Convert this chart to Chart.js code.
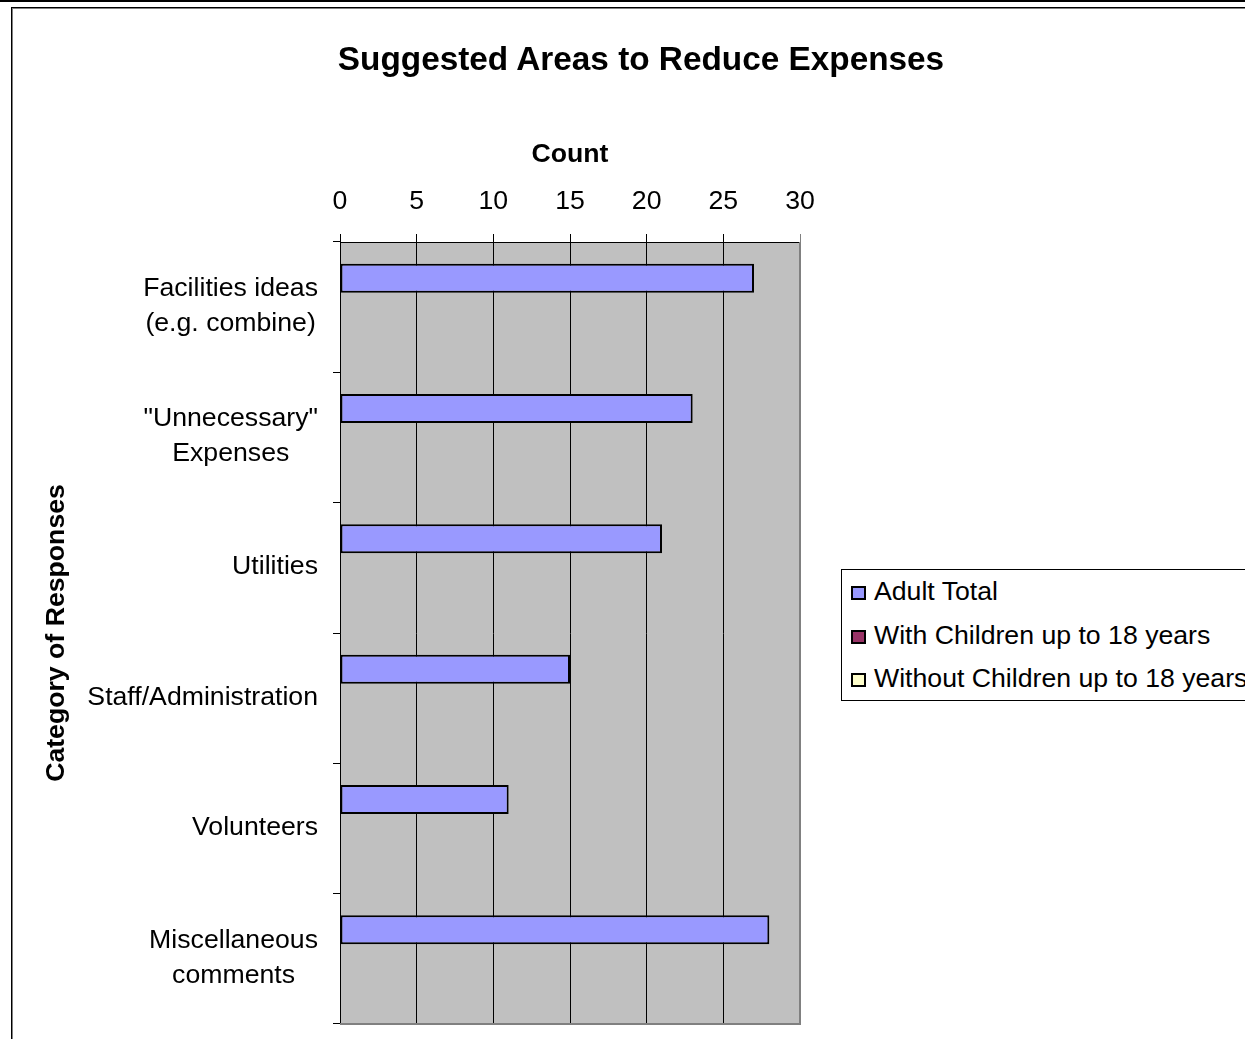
<!DOCTYPE html>
<html>
<head>
<meta charset="utf-8">
<script src="https://cdn.jsdelivr.net/npm/chart.js@4/dist/chart.umd.min.js"></script>
<style>
  html, body { margin: 0; padding: 0; background: #fff; overflow: hidden; }
  body { width: 1245px; height: 1039px; position: relative; font-family: "Liberation Sans", Arial, sans-serif; }
  #topline { position: absolute; left: 0; top: 0; width: 1245px; height: 2px; background: #000; }
  #frame { position: absolute; left: 11px; top: 7px; width: 1300px; height: 1100px;
           border-left: 1px solid #000; border-top: 1px solid #000; box-shadow: inset 1px 1px 0 #808080; }
  #chart { position: absolute; left: 0; top: 0; }
  #title { position: absolute; left: 0; top: 39px; width: 1282px; text-align: center;
           font-weight: bold; font-size: 33.33px; line-height: 40px; color: #000; }
  #legend { position: absolute; left: 841px; top: 569px; width: 430px; height: 130px;
            border: 1px solid #000; background: #fff; }
  .item { position: relative; height: 43.5px; line-height: 42px; font-size: 26.67px; color: #000; white-space: nowrap; }
  .swatch { position: absolute; left: 9px; top: 16px; width: 11px; height: 10px; border: 2px solid #000; }
  .item span.txt { position: absolute; left: 32px; top: 0; }
</style>
</head>
<body>
<div id="topline"></div>
<div id="frame"></div>
<canvas id="chart" width="1245" height="1039"></canvas>
<div id="title">Suggested Areas to Reduce Expenses</div>
<div id="legend"></div>
<script>
// data
const categories = [
    ['Facilities ideas', '(e.g. combine)'],
    ['"Unnecessary"', 'Expenses'],
    ['Utilities'],
    ['Staff/Administration'],
    ['Volunteers'],
    ['Miscellaneous', 'comments']
];
const seriesNames = ['Adult Total', 'With Children up to 18 years', 'Without Children up to 18 years'];
const seriesColors = ['#9999FF', '#993366', '#FFFFCC'];
const adultTotal = [27, 23, 21, 15, 11, 28];
const withChildren = [];
const withoutChildren = [];
const countTicks = [0, 5, 10, 15, 20, 25, 30];

const FONT = '"Liberation Sans", Arial, sans-serif';

// grey plot background + grey right/bottom border
const plotArea = {
    id: 'plotArea',
    beforeDraw(chart) {
        const a = chart.chartArea, c = chart.ctx;
        c.save();
        c.fillStyle = '#C0C0C0';
        c.fillRect(a.left, a.top, a.right - a.left, a.bottom - a.top);
        c.restore();
    },
    afterDraw(chart) {
        const a = chart.chartArea, c = chart.ctx;
        c.save();
        c.strokeStyle = '#808080';
        c.lineWidth = 2;
        c.beginPath();
        c.moveTo(a.right, a.top);
        c.lineTo(a.right, a.bottom);
        c.lineTo(a.left, a.bottom);
        c.stroke();
        c.restore();
    }
};

// category labels: block right aligned, lines centered inside block
const catLabels = {
    id: 'catLabels',
    afterDraw(chart) {
        const y = chart.scales.y, c = chart.ctx;
        const right = chart.chartArea.left - 22;
        c.save();
        c.font = '26.67px ' + FONT;
        c.fillStyle = '#000';
        c.textAlign = 'center';
        c.textBaseline = 'middle';
        categories.forEach(function (lines, i) {
            const cy = y.getPixelForValue(i) - 1;
            let w = 0;
            lines.forEach(function (t) { w = Math.max(w, c.measureText(t).width); });
            const cx = right - w / 2;
            lines.forEach(function (t, j) {
                c.fillText(t, cx, cy + (j - (lines.length - 1) / 2) * 35);
            });
        });
        c.restore();
    }
};

const ctx = document.getElementById('chart').getContext('2d');
const chart = new Chart(ctx, {
    type: 'bar',
    data: {
        labels: categories.map(function (l) { return l.join(' '); }),
        datasets: [
            { label: seriesNames[0], data: adultTotal, backgroundColor: seriesColors[0] },
            { label: seriesNames[1], data: withChildren, backgroundColor: seriesColors[1] },
            { label: seriesNames[2], data: withoutChildren, backgroundColor: seriesColors[2] }
        ]
    },
    options: {
        indexAxis: 'y',
        responsive: false,
        animation: false,
        devicePixelRatio: 1,
        layout: { padding: { left: 37, right: 445, top: 79, bottom: 15 } },
        datasets: {
            bar: {
                borderColor: '#000',
                borderWidth: 2,
                borderSkipped: false,
                barPercentage: 1,
                categoryPercentage: 0.667
            }
        },
        plugins: {
            legend: { display: false },
            title: { display: false },
            tooltip: { enabled: false }
        },
        scales: {
            x: {
                position: 'top',
                min: 0,
                max: 30,
                afterBuildTicks: function (s) { s.ticks = countTicks.map(function (v) { return { value: v }; }); },
                ticks: { color: '#000', font: { family: FONT, size: 26.67 }, padding: 16 },
                grid: {
                    color: function (c) { return c.tick && c.tick.value === 30 ? '#808080' : '#000'; },
                    lineWidth: 1,
                    tickLength: 8
                },
                border: { color: '#000' },
                title: {
                    display: true, text: 'Count', color: '#000',
                    font: { family: FONT, size: 26.67, weight: 'bold' },
                    padding: { top: 60, bottom: 0 }
                },
                afterFit: function (s) { s.height = 163; }
            },
            y: {
                ticks: { display: false },
                grid: { drawOnChartArea: false, color: '#000', tickLength: 7, offset: true },
                border: { color: '#000' },
                title: {
                    display: true, text: 'Category of Responses', color: '#000',
                    font: { family: FONT, size: 26.67, weight: 'bold' },
                    padding: { top: 4, bottom: 0 }
                },
                afterFit: function (s) { s.width = 303; }
            }
        }
    },
    plugins: [plotArea, catLabels]
});

// legend box
const legend = document.getElementById('legend');
seriesNames.forEach(function (name, i) {
    const row = document.createElement('div');
    row.className = 'item';
    const sw = document.createElement('span');
    sw.className = 'swatch';
    sw.style.background = seriesColors[i];
    const tx = document.createElement('span');
    tx.className = 'txt';
    tx.textContent = name;
    row.appendChild(sw);
    row.appendChild(tx);
    legend.appendChild(row);
});
</script>
</body>
</html>
